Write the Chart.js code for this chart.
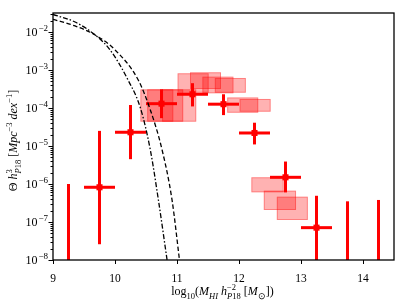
<!DOCTYPE html>
<html><head><meta charset="utf-8">
<script src="https://cdn.jsdelivr.net/npm/chart.js@4.4.0/dist/chart.umd.min.js"></script>
<style>html,body{margin:0;padding:0;background:#fff}#wrap{width:407px;height:305px}</style>
</head><body><div id="wrap"><canvas id="c" width="407" height="305"></canvas></div>
<script>
// ---- data ----
const binCentres = [9.25, 9.75, 10.25, 10.75, 11.25, 11.75, 12.25, 12.75, 13.25, 13.75, 14.25];
const phiValues  = [null, 8.2e-7, 2.3e-5, 1.3e-4, 2.3e-4, 1.26e-4, 2.2e-5, 1.5e-6, 7.1e-8, null, null];
const phiUpper   = [1.0e-6, 2.5e-5, 1.2e-4, 3.1e-4, 4.5e-4, 2.3e-4, 4.1e-5, 3.9e-6, 4.9e-7, 3.5e-7, 3.8e-7];
const phiLower   = [1e-9, 2.6e-8, 4.5e-6, 5.4e-5, 1.1e-4, 6.5e-5, 1.1e-5, 6.0e-7, 1e-9, 1e-9, 1e-9];
const binHalfWidth = [0, 0.25, 0.25, 0.25, 0.25, 0.25, 0.25, 0.25, 0.25, 0, 0];

const boxXmin = [10.41, 10.52, 10.76, 11.01, 11.21, 11.41, 11.61, 11.81, 12.01, 12.20, 12.40, 12.61];
const boxXmax = [10.94, 11.10, 11.31, 11.51, 11.71, 11.91, 12.11, 12.31, 12.51, 12.72, 12.92, 13.11];
const boxYmin = [4.37e-5, 4.37e-5, 4.37e-5, 2.53e-4, 3.16e-4, 2.44e-4, 2.53e-4, 7.52e-5, 8.0e-5, 6.05e-7, 2.07e-7, 1.13e-7];
const boxYmax = [3.09e-4, 3.09e-4, 3.09e-4, 8.18e-4, 8.69e-4, 6.67e-4, 6.17e-4, 1.89e-4, 1.73e-4, 1.5e-6, 6.67e-7, 4.63e-7];

const dashX = [9.0, 9.356, 9.68, 10.0, 10.375, 10.57, 10.76, 10.92, 11.04];
const dashY = [2.16e-2, 1.44e-2, 8.34e-3, 3.39e-3, 5.46e-4, 8.9e-5, 7.85e-6, 3.8e-7, 1e-8];
const dashDotX = [9.0, 9.356, 9.68, 9.92, 10.21, 10.41, 10.57, 10.70, 10.84];
const dashDotY = [2.89e-2, 1.83e-2, 8.34e-3, 3.39e-3, 5.46e-4, 1.0e-4, 7.85e-6, 3.8e-7, 1e-8];

const xTicks = [9, 10, 11, 12, 13, 14];
const yExponents = [-2, -3, -4, -5, -6, -7, -8];

// ---- drawing ----
const FONT = '"Liberation Serif", "Times New Roman", serif';
const RED = '#ff0000';
const BASE = 12, SCRIPT = 8.5;

function drawRich(ctx, segs, x, y, measure) {
  let cx = x;
  const one = (s, px, py, size) => {
    ctx.font = (s.it ? 'italic ' : '') + size + 'px ' + FONT;
    const w = ctx.measureText(s.t).width;
    if (!measure) ctx.fillText(s.t, px, py);
    return w;
  };
  for (const s of segs) {
    if (s.stack) {
      let a = cx, b = cx;
      for (const q of s.stack.sup) a += one(q, a, y - 5, SCRIPT);
      for (const q of s.stack.sub) b += one(q, b, y + 3.5, SCRIPT);
      cx = Math.max(a, b);
    } else {
      const size = s.pos ? SCRIPT : BASE;
      const dy = s.pos === 'sub' ? 3.5 : s.pos === 'sup' ? -5 : 0;
      cx += one(s, cx, y + dy, size);
    }
  }
  return cx - x;
}
function drawRichCentered(ctx, segs, x, y) {
  const w = drawRich(ctx, segs, 0, 0, true);
  drawRich(ctx, segs, x - w / 2, y, false);
}

const xTitle = [
  {t:'log'},{t:'10',pos:'sub'},{t:'('},{t:'M',it:1},{t:'HI',it:1,pos:'sub'},{t:' '},{t:'h',it:1},
  {stack:{sup:[{t:'−2'}], sub:[{t:'P',it:1},{t:'18'}]}},{t:' ['},{t:'M',it:1},{t:'⊙',pos:'sub'},{t:'])'}
];
const yTitle = [
  {t:'Θ '},{t:'h',it:1},{stack:{sup:[{t:'3'}], sub:[{t:'P',it:1},{t:'18'}]}},{t:' ['},{t:'Mpc',it:1},
  {t:'−3',pos:'sup'},{t:' '},{t:'dex',it:1},{t:'−1',pos:'sup'},{t:']'}
];

const extras = {
  id: 'extras',
  beforeDatasetsDraw(chart) {
    const {ctx, chartArea: a, scales: {x, y}} = chart;
    ctx.save();
    ctx.beginPath(); ctx.rect(a.left, a.top, a.right - a.left, a.bottom - a.top); ctx.clip();
    // boxes
    ctx.fillStyle = 'rgba(255,0,0,0.3)';
    ctx.strokeStyle = 'rgba(255,0,0,0.3)';
    ctx.lineWidth = 1;
    for (let i = 0; i < boxXmin.length; i++) {
      const x0 = x.getPixelForValue(boxXmin[i]), x1 = x.getPixelForValue(boxXmax[i]);
      const y0 = y.getPixelForValue(boxYmax[i]), y1 = y.getPixelForValue(boxYmin[i]);
      ctx.fillRect(x0, y0, x1 - x0, y1 - y0);
      ctx.strokeRect(x0 + 0.5, y0 + 0.5, x1 - x0 - 1, y1 - y0 - 1);
    }
    // error bars
    ctx.strokeStyle = RED; ctx.lineWidth = 3; ctx.lineCap = 'butt';
    for (let i = 0; i < binCentres.length; i++) {
      const px = x.getPixelForValue(binCentres[i]);
      ctx.beginPath();
      ctx.moveTo(px, y.getPixelForValue(phiUpper[i]));
      ctx.lineTo(px, y.getPixelForValue(phiLower[i]));
      ctx.stroke();
      if (phiValues[i] !== null && binHalfWidth[i] > 0) {
        const py = y.getPixelForValue(phiValues[i]);
        ctx.beginPath();
        ctx.moveTo(x.getPixelForValue(binCentres[i] - binHalfWidth[i]), py);
        ctx.lineTo(x.getPixelForValue(binCentres[i] + binHalfWidth[i]), py);
        ctx.stroke();
      }
    }
    ctx.restore();
  },
  afterDraw(chart) {
    const {ctx, chartArea: a, scales: {x, y}} = chart;
    ctx.save();
    ctx.strokeStyle = '#000'; ctx.fillStyle = '#000';
    // ticks
    ctx.lineWidth = 1;
    ctx.beginPath();
    for (const t of xTicks) {
      const px = Math.round(x.getPixelForValue(t)) + 0.5;
      ctx.moveTo(px, a.bottom); ctx.lineTo(px, a.bottom + 4);
    }
    for (const e of yExponents) {
      const py = Math.round(y.getPixelForValue(Math.pow(10, e))) + 0.5;
      ctx.moveTo(a.left, py); ctx.lineTo(a.left - 4.5, py);
      for (let k = 2; k <= 9; k++) {
        const v = k * Math.pow(10, e);
        if (v > y.max) continue;
        const pm = Math.round(y.getPixelForValue(v)) + 0.5;
        ctx.moveTo(a.left, pm); ctx.lineTo(a.left - 2.5, pm);
      }
    }
    ctx.stroke();
    // frame
    ctx.lineWidth = 1.3;
    ctx.strokeRect(a.left, a.top, a.right - a.left, a.bottom - a.top);
    // y tick labels
    ctx.textBaseline = 'alphabetic'; ctx.textAlign = 'left';
    for (const e of yExponents) {
      const py = y.getPixelForValue(Math.pow(10, e));
      ctx.font = '9px ' + FONT;
      const ex = '−' + Math.abs(e);
      const we = ctx.measureText(ex).width;
      ctx.font = '12px ' + FONT;
      const wb = ctx.measureText('10').width;
      const right = a.left - 5;
      ctx.fillText('10', right - we - wb - 1, py + 4);
      ctx.font = '9px ' + FONT;
      ctx.fillText(ex, right - we, py - 1);
    }
    // axis titles
    drawRichCentered(ctx, xTitle, (a.left + a.right) / 2 - 1, 295);
    ctx.translate(17, 140.5);
    ctx.rotate(-Math.PI / 2);
    drawRichCentered(ctx, yTitle, 0, 0);
    ctx.restore();
  }
};

const markerData = [];
binCentres.forEach((c, i) => { if (phiValues[i] !== null) markerData.push({x: c, y: phiValues[i]}); });

new Chart(document.getElementById('c'), {
  type: 'scatter',
  data: {
    datasets: [
      {data: dashX.map((v, i) => ({x: v, y: dashY[i]})), showLine: true, pointRadius: 0,
       borderColor: '#000', borderWidth: 1.3, borderDash: [4.5, 2.5], cubicInterpolationMode: 'monotone', fill: false},
      {data: dashDotX.map((v, i) => ({x: v, y: dashDotY[i]})), showLine: true, pointRadius: 0,
       borderColor: '#000', borderWidth: 1.3, borderDash: [5, 2, 1.5, 2], cubicInterpolationMode: 'monotone', fill: false},
      {data: markerData, pointStyle: 'rect', pointRadius: 4.3, backgroundColor: RED, borderWidth: 0, showLine: false}
    ]
  },
  options: {
    responsive: false, animation: false, devicePixelRatio: 1,
    layout: {padding: {top: 13, right: 13, left: 0, bottom: 0}},
    plugins: {legend: {display: false}, tooltip: {enabled: false}},
    scales: {
      x: {type: 'linear', min: 9, max: 14.5,
          afterBuildTicks: s => { s.ticks = xTicks.map(v => ({value: v})); },
          afterFit: s => { s.height = 45; },
          grid: {display: false}, border: {display: false},
          ticks: {color: '#000', font: {family: FONT, size: 11.5}, padding: 4, maxRotation: 0}},
      y: {type: 'logarithmic', min: 1e-8, max: Math.pow(10, -1.5),
          afterBuildTicks: s => { s.ticks = yExponents.map(e => ({value: Math.pow(10, e)})); },
          afterFit: s => { s.width = 53; },
          grid: {display: false}, border: {display: false},
          ticks: {display: false}}
    }
  },
  plugins: [extras]
});
</script></body></html>
